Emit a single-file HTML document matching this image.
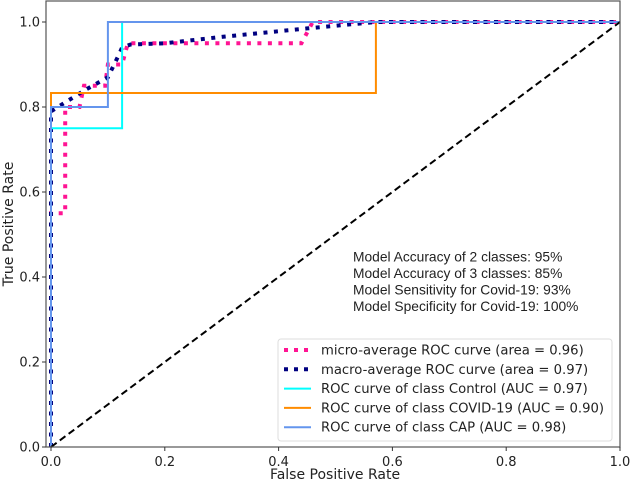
<!DOCTYPE html>
<html><head><meta charset="utf-8"><style>
html,body{margin:0;padding:0;background:#fff;}
svg{display:block;font-family:"DejaVu Sans","Liberation Sans",sans-serif;}
.ann{font-family:"Liberation Sans",sans-serif;}
</style></head><body>
<svg id="chart" width="630" height="483" viewBox="0 0 630 483">
<rect x="0" y="0" width="630" height="483" fill="#fff"/>
<g id="plot"></g>
<g id="axes"></g>
<text class="ann" x="353" y="261.5" font-size="13.8" fill="#222">Model Accuracy of 2 classes: 95%</text>
<text class="ann" x="353" y="278" font-size="13.8" fill="#222">Model Accuracy of 3 classes: 85%</text>
<text class="ann" x="353" y="294.5" font-size="13.8" fill="#222">Model Sensitivity for Covid-19: 93%</text>
<text class="ann" x="353" y="311" font-size="13.8" fill="#222">Model Specificity for Covid-19: 100%</text>
<g id="legend"></g>
<text x="335" y="479" font-size="14" text-anchor="middle" fill="#222">False Positive Rate</text>
<text transform="translate(13,224) rotate(-90)" font-size="14" text-anchor="middle" fill="#222">True Positive Rate</text>
</svg>
<script>
const xTicks = [0, 0.2, 0.4, 0.6, 0.8, 1.0];
const yTicks = [0, 0.2, 0.4, 0.6, 0.8, 1.0];
const tickLabels = ["0.0", "0.2", "0.4", "0.6", "0.8", "1.0"];
const microFpr = [0, 0, 0.025, 0.025, 0.05, 0.058, 0.095, 0.1, 0.125, 0.135, 0.44, 0.46, 1];
const microTpr = [0, 0.55, 0.55, 0.8, 0.8, 0.85, 0.85, 0.9, 0.9, 0.95, 0.95, 1, 1];
const macroFpr = [0, 0, 0.03, 0.06, 0.1, 0.12, 0.125, 0.14, 0.2, 0.3, 0.45, 0.571, 1];
const macroTpr = [0, 0.79, 0.815, 0.84, 0.87, 0.925, 0.94, 0.947, 0.95, 0.965, 0.985, 1, 1];
const controlFpr = [0, 0, 0.125, 0.125, 1];
const controlTpr = [0, 0.75, 0.75, 1, 1];
const covidFpr = [0, 0, 0.571, 0.571, 1];
const covidTpr = [0, 0.833, 0.833, 1, 1];
const capFpr = [0, 0, 0.1, 0.1, 1];
const capTpr = [0, 0.8, 0.8, 1, 1];
const legendLabels = ["micro-average ROC curve (area = 0.96)","macro-average ROC curve (area = 0.97)","ROC curve of class Control (AUC = 0.97)","ROC curve of class COVID-19 (AUC = 0.90)","ROC curve of class CAP (AUC = 0.98)"];

const NS = "http://www.w3.org/2000/svg";
const X = v => 51 + 569 * v;
const Y = v => 447 - 425 * v;
function mk(tag, attrs, parent) {
  const e = document.createElementNS(NS, tag);
  for (const k in attrs) e.setAttribute(k, attrs[k]);
  parent.appendChild(e);
  return e;
}
const plot = document.getElementById('plot');
const axes = document.getElementById('axes');
const legend = document.getElementById('legend');
function pts(xs, ys) { return xs.map((x, i) => X(x).toFixed(1) + ',' + Y(ys[i]).toFixed(1)).join(' '); }

const series = [
  {xs: microFpr, ys: microTpr, color: '#ff1493', w: 4, dash: '4,6.5', name: 'micro-average-curve'},
  {xs: macroFpr, ys: macroTpr, color: '#000080', w: 4, dash: '4,6.5', name: 'macro-average-curve'},
  {xs: controlFpr, ys: controlTpr, color: '#00ffff', w: 2, dash: null, name: 'control-curve'},
  {xs: covidFpr, ys: covidTpr, color: '#ff8c00', w: 2, dash: null, name: 'covid-curve'},
  {xs: capFpr, ys: capTpr, color: '#6495ed', w: 2, dash: null, name: 'cap-curve'}
];
series.forEach(s => {
  const p = mk('polyline', {points: pts(s.xs, s.ys), fill: 'none', stroke: s.color, 'stroke-width': s.w}, plot);
  if (s.dash) p.setAttribute('stroke-dasharray', s.dash);
  
  
});
const diag = mk('line', {x1: X(0), y1: Y(0), x2: X(1), y2: Y(1), stroke: '#000', 'stroke-width': 2, 'stroke-dasharray': '7,4'}, plot);



const frame = mk('rect', {x: 46, y: 1, width: 574, height: 446, fill: 'none', stroke: '#555', 'stroke-width': 1.2}, axes);


xTicks.forEach((t, i) => {
  const l = mk('line', {x1: X(t), y1: 447, x2: X(t), y2: 451, stroke: '#333', 'stroke-width': 1}, axes);
  
  
  const tx = mk('text', {x: X(t), y: 466, 'font-size': 13, 'text-anchor': 'middle', fill: '#222'}, axes);
  tx.textContent = tickLabels[i];
  
  
});
yTicks.forEach((t, i) => {
  const l = mk('line', {x1: 42, y1: Y(t), x2: 46, y2: Y(t), stroke: '#333', 'stroke-width': 1}, axes);
  
  
  const tx = mk('text', {x: 40, y: Y(t) + 4.5, 'font-size': 13, 'text-anchor': 'end', fill: '#222'}, axes);
  tx.textContent = tickLabels[i];
  
  
});

const box = mk('rect', {x: 278, y: 339, width: 334, height: 102, rx: 3, fill: '#fff', 'fill-opacity': 0.85, stroke: '#ddd', 'stroke-width': 1}, legend);


legendLabels.forEach((lab, i) => {
  const y = 350 + i * 19.3;
  const s = series[i];
  const h = mk('line', {x1: 284, y1: y, x2: 311, y2: y, stroke: s.color, 'stroke-width': s.w}, legend);
  if (s.dash) h.setAttribute('stroke-dasharray', '4,6');
  
  
  const t = mk('text', {x: 321, y: y + 4.5, 'font-size': 13.2, fill: '#222'}, legend);
  t.textContent = lab;
  
  
});
</script>
</body></html>
